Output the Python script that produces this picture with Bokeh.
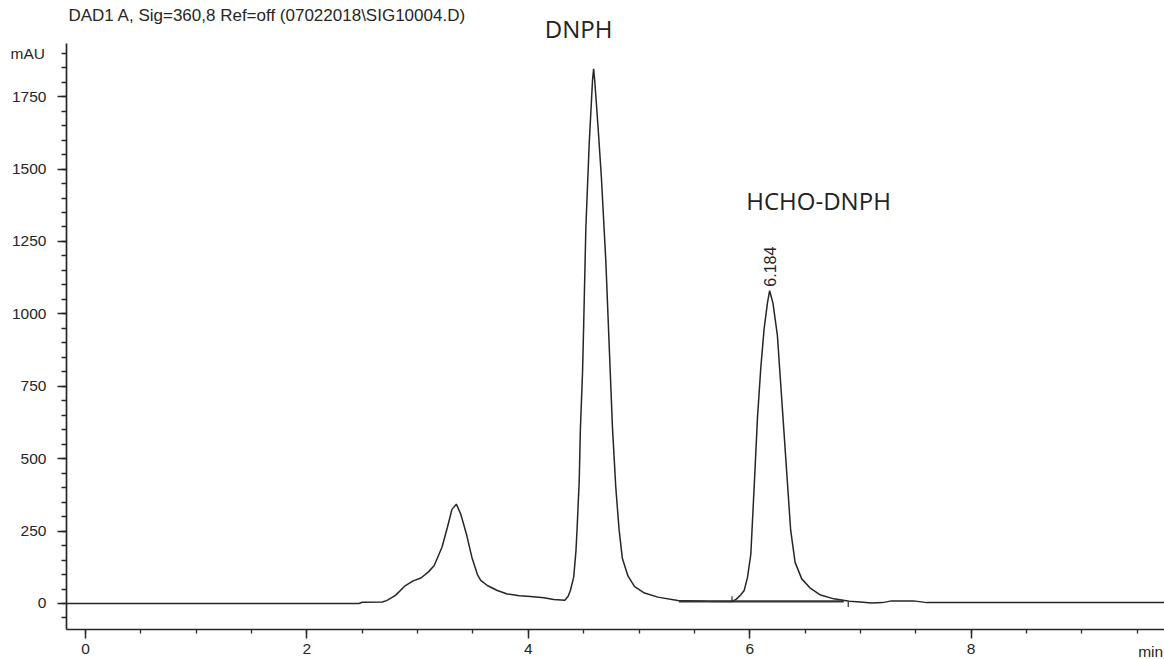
import numpy as np
from bokeh.plotting import figure
from bokeh.models import Range1d, FixedTicker, Label, ColumnDataSource
from bokeh.core.properties import value
from bokeh.embed import file_html
from bokeh.resources import INLINE

# ---- data ----
time_min = [-0.17, 2.47, 2.50, 2.68, 2.72, 2.80, 2.89, 2.96, 3.03, 3.10, 3.15, 3.22,
            3.27, 3.31, 3.35, 3.39, 3.44, 3.49, 3.54, 3.57, 3.63, 3.72, 3.81, 3.92,
            4.02, 4.14, 4.23, 4.33, 4.36, 4.38, 4.41, 4.43, 4.44, 4.46, 4.47, 4.49,
            4.50, 4.52, 4.55, 4.58, 4.59, 4.60, 4.63, 4.66, 4.70, 4.73, 4.76, 4.79,
            4.82, 4.85, 4.90, 4.96, 5.05, 5.17, 5.35, 5.60, 5.84, 5.88, 5.92, 5.95,
            5.98, 6.01, 6.04, 6.07, 6.10, 6.13, 6.16, 6.18, 6.21, 6.25, 6.28, 6.31,
            6.34, 6.37, 6.41, 6.47, 6.55, 6.64, 6.76, 6.90, 7.00, 7.10, 7.20, 7.28,
            7.48, 7.60, 9.80]
signal_mau = [0, 0, 4, 5, 10, 28, 62, 78, 88, 110, 131, 194,
              264, 325, 343, 308, 241, 160, 100, 80, 62, 45, 33, 27,
              24, 20, 14, 11, 25, 45, 91, 180, 252, 425, 597, 800,
              960, 1299, 1587, 1806, 1846, 1806, 1645, 1472, 1184, 897, 609, 402,
              255, 155, 95, 58, 36, 22, 10, 8, 7, 15, 30, 45,
              90, 170, 400, 640, 813, 948, 1037, 1080, 1037, 926, 758, 590,
              421, 253, 142, 85, 52, 29, 16, 8, 5, 2, 3, 9,
              9, 3, 3]

# integration baseline and peak start/end markers of the labelled peak
baseline_t = [5.36, 6.85]
baseline_v = [7, 7]
marker_t = [5.84, 6.89]
marker_v0 = [7, 5]
marker_v1 = [25, -12]

peak_rt = [6.184]
peak_height = [1080]
peak_text = ["6.184"]

compound_names = ["DNPH", "HCHO-DNPH"]
compound_x = [4.454, 6.622]
compound_y = [1985, 1392]

x_major = [0, 2, 4, 6, 8]
x_minor = list(np.arange(0, 10.01, 0.5))
y_major = [0, 250, 500, 750, 1000, 1250, 1500, 1750]
y_minor = list(np.arange(-50, 1901, 50))

title_text = "DAD1 A, Sig=360,8 Ref=off (07022018\\SIG10004.D)"

INK = "#262626"
X_START, X_END = -0.768, 9.747
Y_START, Y_END = -193.4, 2082
AX_X0, AX_X1 = -0.172, 9.747
AX_Y0, AX_Y1 = -90, 1935

p = figure(width=1164, height=659, output_backend="svg", toolbar_location=None,
           x_range=Range1d(X_START, X_END), y_range=Range1d(Y_START, Y_END),
           min_border_left=0, min_border_right=0, min_border_top=0,
           min_border_bottom=0)
p.title.visible = False
p.xgrid.visible = False
p.ygrid.visible = False
p.outline_line_color = None
p.background_fill_color = "white"
p.border_fill_color = "white"

for ax in (p.xaxis[0], p.yaxis[0]):
    ax.axis_line_color = INK
    ax.axis_line_width = 1.7
    ax.major_tick_line_color = INK
    ax.minor_tick_line_color = INK
    ax.major_tick_line_width = 1.5
    ax.minor_tick_line_width = 1.3
    ax.major_tick_in = 0
    ax.minor_tick_in = 0
    ax.major_label_text_font = "Liberation Sans"
    ax.major_label_text_font_size = "15.5px"
    ax.major_label_text_color = INK

p.xaxis.ticker = FixedTicker(ticks=x_major, minor_ticks=x_minor)
p.yaxis.ticker = FixedTicker(ticks=y_major, minor_ticks=y_minor)
p.xaxis.fixed_location = AX_Y0
p.yaxis.fixed_location = AX_X0
p.xaxis.bounds = (AX_X0, AX_X1)
p.yaxis.bounds = (AX_Y0, AX_Y1)
p.xaxis.major_tick_out = 9
p.xaxis.minor_tick_out = 4
p.xaxis.major_label_standoff = 5
p.yaxis.major_tick_out = 9
p.yaxis.minor_tick_out = 5
p.yaxis.major_label_standoff = 11

src = ColumnDataSource(dict(t=time_min, v=signal_mau))
p.line("t", "v", source=src, line_color=INK, line_width=1.5)
p.line(baseline_t, baseline_v, line_color="#333333", line_width=2.3)
p.segment(x0=marker_t, y0=marker_v0, x1=marker_t, y1=marker_v1,
          line_color=INK, line_width=1.2)

p.text(x=peak_rt, y=peak_height, text=peak_text, angle=np.pi / 2,
       y_offset=-4, text_align="left", text_baseline="middle",
       text_font=value("Liberation Sans"), text_font_size="16px",
       text_color=INK)

for name, cx, cy in zip(compound_names, compound_x, compound_y):
    p.add_layout(Label(x=cx, y=cy, text=name, text_align="center",
                       text_baseline="middle", text_font="Open Sans",
                       text_font_size="24px", text_color="#222222"))

p.add_layout(Label(x=-0.154, y=2030, text=title_text, text_align="left",
                   text_baseline="middle", text_font="Liberation Sans",
                   text_font_size="17px", text_color=INK))
p.add_layout(Label(x=-0.6775, y=1900, text="mAU", text_align="left",
                   text_baseline="middle", text_font="Liberation Sans",
                   text_font_size="15.5px", text_color=INK))
p.add_layout(Label(x=9.735, y=-165.7, text="min", text_align="right",
                   text_baseline="middle", text_font="Liberation Sans",
                   text_font_size="15.5px", text_color=INK))

open("out.html", "w").write(file_html(p, INLINE))
